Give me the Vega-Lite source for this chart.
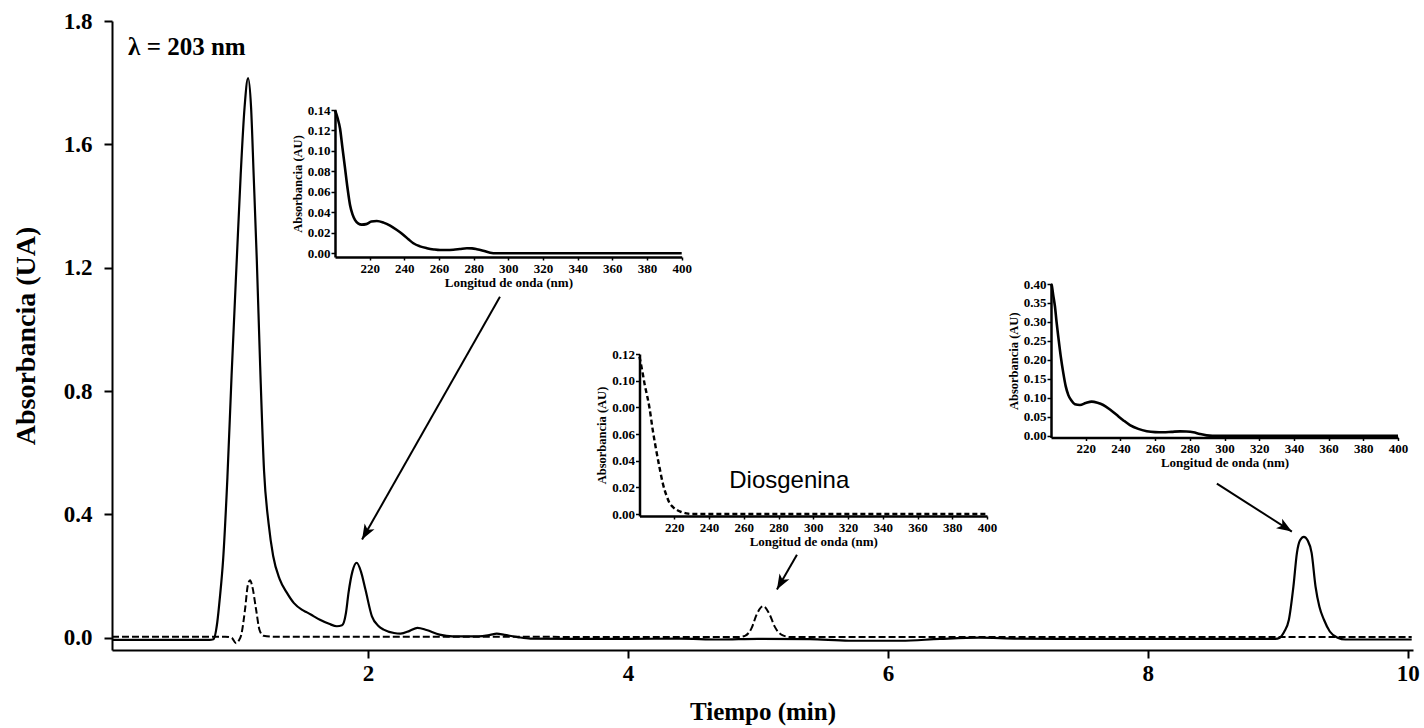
{
  "$schema": "https://vega.github.io/schema/vega-lite/v6.json",
  "width": 1301,
  "height": 629,
  "autosize": {"type": "none"},
  "padding": {"left": 112, "top": 21, "right": 11, "bottom": 78},
  "background": "white",
  "config": {
    "view": {"stroke": null},
    "axis": {
      "grid": false,
      "domainColor": "black",
      "tickColor": "black",
      "labelColor": "black",
      "titleColor": "black",
      "labelFont": "Liberation Serif",
      "titleFont": "Liberation Serif",
      "labelFontWeight": "bold",
      "titleFontWeight": "bold",
      "labelOverlap": false,
      "labelFlush": false
    }
  },
  "datasets": {
    "main": [
      {"serie": "muestra", "t": 0.03, "a": -0.007},
      {"serie": "muestra", "t": 0.4, "a": -0.007},
      {"serie": "muestra", "t": 0.78, "a": -0.007},
      {"serie": "muestra", "t": 0.81, "a": -0.005},
      {"serie": "muestra", "t": 0.84, "a": 0.05},
      {"serie": "muestra", "t": 0.86, "a": 0.13},
      {"serie": "muestra", "t": 0.885, "a": 0.253},
      {"serie": "muestra", "t": 0.918, "a": 0.52},
      {"serie": "muestra", "t": 0.95, "a": 0.85},
      {"serie": "muestra", "t": 0.99, "a": 1.226},
      {"serie": "muestra", "t": 1.02, "a": 1.5},
      {"serie": "muestra", "t": 1.05, "a": 1.72},
      {"serie": "muestra", "t": 1.077, "a": 1.815},
      {"serie": "muestra", "t": 1.1, "a": 1.72},
      {"serie": "muestra", "t": 1.12, "a": 1.5},
      {"serie": "muestra", "t": 1.144, "a": 1.226},
      {"serie": "muestra", "t": 1.17, "a": 0.88},
      {"serie": "muestra", "t": 1.2, "a": 0.54},
      {"serie": "muestra", "t": 1.235, "a": 0.37},
      {"serie": "muestra", "t": 1.27, "a": 0.265},
      {"serie": "muestra", "t": 1.32, "a": 0.19},
      {"serie": "muestra", "t": 1.375, "a": 0.146},
      {"serie": "muestra", "t": 1.43, "a": 0.112},
      {"serie": "muestra", "t": 1.49, "a": 0.091},
      {"serie": "muestra", "t": 1.53, "a": 0.082},
      {"serie": "muestra", "t": 1.58, "a": 0.07},
      {"serie": "muestra", "t": 1.63, "a": 0.058},
      {"serie": "muestra", "t": 1.7, "a": 0.045},
      {"serie": "muestra", "t": 1.76, "a": 0.037},
      {"serie": "muestra", "t": 1.8, "a": 0.04},
      {"serie": "muestra", "t": 1.83, "a": 0.08},
      {"serie": "muestra", "t": 1.85, "a": 0.146},
      {"serie": "muestra", "t": 1.88, "a": 0.215},
      {"serie": "muestra", "t": 1.913, "a": 0.243},
      {"serie": "muestra", "t": 1.945, "a": 0.215},
      {"serie": "muestra", "t": 1.98, "a": 0.156},
      {"serie": "muestra", "t": 2.03, "a": 0.069},
      {"serie": "muestra", "t": 2.08, "a": 0.038},
      {"serie": "muestra", "t": 2.12, "a": 0.026},
      {"serie": "muestra", "t": 2.2, "a": 0.015},
      {"serie": "muestra", "t": 2.25, "a": 0.013},
      {"serie": "muestra", "t": 2.32, "a": 0.022},
      {"serie": "muestra", "t": 2.38, "a": 0.032},
      {"serie": "muestra", "t": 2.45, "a": 0.025},
      {"serie": "muestra", "t": 2.55, "a": 0.01},
      {"serie": "muestra", "t": 2.65, "a": 0.004},
      {"serie": "muestra", "t": 2.85, "a": 0.004},
      {"serie": "muestra", "t": 2.94, "a": 0.009},
      {"serie": "muestra", "t": 2.99, "a": 0.013},
      {"serie": "muestra", "t": 3.05, "a": 0.009},
      {"serie": "muestra", "t": 3.15, "a": 0.002},
      {"serie": "muestra", "t": 3.25, "a": -0.003},
      {"serie": "muestra", "t": 3.6, "a": -0.004},
      {"serie": "muestra", "t": 4.0, "a": -0.004},
      {"serie": "muestra", "t": 4.4, "a": -0.003},
      {"serie": "muestra", "t": 4.7, "a": -0.006},
      {"serie": "muestra", "t": 5.0, "a": -0.004},
      {"serie": "muestra", "t": 5.4, "a": -0.005},
      {"serie": "muestra", "t": 5.7, "a": -0.01},
      {"serie": "muestra", "t": 6.1, "a": -0.01},
      {"serie": "muestra", "t": 6.4, "a": -0.004},
      {"serie": "muestra", "t": 6.7, "a": 0.0},
      {"serie": "muestra", "t": 7.0, "a": -0.003},
      {"serie": "muestra", "t": 7.5, "a": -0.004},
      {"serie": "muestra", "t": 8.0, "a": -0.004},
      {"serie": "muestra", "t": 8.5, "a": -0.004},
      {"serie": "muestra", "t": 8.98, "a": -0.004},
      {"serie": "muestra", "t": 9.015, "a": 0.0},
      {"serie": "muestra", "t": 9.05, "a": 0.02},
      {"serie": "muestra", "t": 9.085, "a": 0.058},
      {"serie": "muestra", "t": 9.12, "a": 0.166},
      {"serie": "muestra", "t": 9.147, "a": 0.275},
      {"serie": "muestra", "t": 9.17, "a": 0.315},
      {"serie": "muestra", "t": 9.2, "a": 0.327},
      {"serie": "muestra", "t": 9.23, "a": 0.315},
      {"serie": "muestra", "t": 9.26, "a": 0.275},
      {"serie": "muestra", "t": 9.29, "a": 0.166},
      {"serie": "muestra", "t": 9.32, "a": 0.1},
      {"serie": "muestra", "t": 9.355, "a": 0.058},
      {"serie": "muestra", "t": 9.4, "a": 0.02},
      {"serie": "muestra", "t": 9.46, "a": 0.0},
      {"serie": "muestra", "t": 9.52, "a": -0.006},
      {"serie": "muestra", "t": 10.03, "a": -0.006},
      {"serie": "estandar", "t": 0.03, "a": 0.003},
      {"serie": "estandar", "t": 0.9, "a": 0.003},
      {"serie": "estandar", "t": 0.95, "a": 0.0},
      {"serie": "estandar", "t": 0.985, "a": -0.018},
      {"serie": "estandar", "t": 1.005, "a": -0.01},
      {"serie": "estandar", "t": 1.025, "a": 0.01},
      {"serie": "estandar", "t": 1.054, "a": 0.093},
      {"serie": "estandar", "t": 1.075, "a": 0.17},
      {"serie": "estandar", "t": 1.092, "a": 0.186},
      {"serie": "estandar", "t": 1.11, "a": 0.165},
      {"serie": "estandar", "t": 1.138, "a": 0.093},
      {"serie": "estandar", "t": 1.165, "a": 0.025},
      {"serie": "estandar", "t": 1.195, "a": 0.006},
      {"serie": "estandar", "t": 1.3, "a": 0.003},
      {"serie": "estandar", "t": 2.0, "a": 0.003},
      {"serie": "estandar", "t": 3.0, "a": 0.003},
      {"serie": "estandar", "t": 4.0, "a": 0.002},
      {"serie": "estandar", "t": 4.85, "a": 0.002},
      {"serie": "estandar", "t": 4.9, "a": 0.006},
      {"serie": "estandar", "t": 4.95, "a": 0.03},
      {"serie": "estandar", "t": 4.99, "a": 0.075},
      {"serie": "estandar", "t": 5.04, "a": 0.102},
      {"serie": "estandar", "t": 5.09, "a": 0.075},
      {"serie": "estandar", "t": 5.13, "a": 0.035},
      {"serie": "estandar", "t": 5.18, "a": 0.01},
      {"serie": "estandar", "t": 5.25, "a": 0.002},
      {"serie": "estandar", "t": 7.0, "a": 0.002},
      {"serie": "estandar", "t": 10.03, "a": 0.002}
    ],
    "flechas": [
      {"flecha": 1, "t": 3.015, "a": 1.106, "t2": 1.954, "a2": 0.318},
      {"flecha": 2, "t": 5.3, "a": 0.269, "t2": 5.146, "a2": 0.156},
      {"flecha": 3, "t": 8.531, "a": 0.4995, "t2": 9.108, "a2": 0.344}
    ],
    "textos": [
      {"id": "lambda", "t": 0.154, "a": 1.891, "label": "λ = 203 nm"},
      {"id": "dios", "t": 4.779, "a": 0.4865, "label": "Diosgenina"}
    ],
    "esp1": [
      {"nm": 200, "abs": 0.14},
      {"nm": 201.5, "abs": 0.132},
      {"nm": 202.9, "abs": 0.122},
      {"nm": 204.3, "abs": 0.103},
      {"nm": 205.8, "abs": 0.083},
      {"nm": 207.2, "abs": 0.064},
      {"nm": 208.7, "abs": 0.047},
      {"nm": 210.1, "abs": 0.038},
      {"nm": 211.6, "abs": 0.0325},
      {"nm": 213.5, "abs": 0.029},
      {"nm": 215.4, "abs": 0.028},
      {"nm": 218, "abs": 0.0285},
      {"nm": 221, "abs": 0.031},
      {"nm": 224.1, "abs": 0.0316},
      {"nm": 228, "abs": 0.03},
      {"nm": 231.8, "abs": 0.027},
      {"nm": 235.5, "abs": 0.023},
      {"nm": 239.5, "abs": 0.018},
      {"nm": 242.5, "abs": 0.0135},
      {"nm": 245.2, "abs": 0.0098},
      {"nm": 249, "abs": 0.0068},
      {"nm": 253, "abs": 0.005},
      {"nm": 257, "abs": 0.0038},
      {"nm": 260.6, "abs": 0.0032},
      {"nm": 264.5, "abs": 0.0032},
      {"nm": 268.3, "abs": 0.0035},
      {"nm": 272, "abs": 0.0042},
      {"nm": 276.1, "abs": 0.005},
      {"nm": 279, "abs": 0.0048},
      {"nm": 281.8, "abs": 0.004},
      {"nm": 285.5, "abs": 0.0025},
      {"nm": 289.5, "abs": 0.0006},
      {"nm": 293, "abs": 0.0},
      {"nm": 400, "abs": 0.0}
    ],
    "esp2": [
      {"nm": 200, "abs": 0.118},
      {"nm": 201.5, "abs": 0.108},
      {"nm": 203, "abs": 0.097},
      {"nm": 204.5, "abs": 0.088},
      {"nm": 205.7, "abs": 0.08},
      {"nm": 207.5, "abs": 0.064},
      {"nm": 209.6, "abs": 0.048},
      {"nm": 211.5, "abs": 0.035},
      {"nm": 213.4, "abs": 0.023},
      {"nm": 215.5, "abs": 0.014},
      {"nm": 217, "abs": 0.009},
      {"nm": 219, "abs": 0.0055},
      {"nm": 221.5, "abs": 0.003},
      {"nm": 224, "abs": 0.0015},
      {"nm": 227, "abs": 0.0005},
      {"nm": 230, "abs": 0.0},
      {"nm": 400, "abs": 0.0}
    ],
    "esp3": [
      {"nm": 200, "abs": 0.4},
      {"nm": 200.4, "abs": 0.397},
      {"nm": 201.3, "abs": 0.37},
      {"nm": 202.3, "abs": 0.34},
      {"nm": 203.2, "abs": 0.3},
      {"nm": 204.2, "abs": 0.261},
      {"nm": 205.6, "abs": 0.21},
      {"nm": 207.1, "abs": 0.165},
      {"nm": 208.5, "abs": 0.13},
      {"nm": 210, "abs": 0.107},
      {"nm": 211.9, "abs": 0.092},
      {"nm": 213.8, "abs": 0.083},
      {"nm": 216.7, "abs": 0.081},
      {"nm": 220, "abs": 0.086},
      {"nm": 223.4, "abs": 0.09},
      {"nm": 226.8, "abs": 0.087},
      {"nm": 230.1, "abs": 0.081},
      {"nm": 234, "abs": 0.069},
      {"nm": 237.8, "abs": 0.055},
      {"nm": 241.6, "abs": 0.041},
      {"nm": 245.5, "abs": 0.028},
      {"nm": 250.3, "abs": 0.018},
      {"nm": 255.2, "abs": 0.012},
      {"nm": 260, "abs": 0.0095},
      {"nm": 264.7, "abs": 0.009},
      {"nm": 269.5, "abs": 0.0102},
      {"nm": 274.4, "abs": 0.0115},
      {"nm": 278, "abs": 0.011},
      {"nm": 282, "abs": 0.009},
      {"nm": 285.8, "abs": 0.0045},
      {"nm": 289.7, "abs": 0.001},
      {"nm": 293, "abs": 0.0},
      {"nm": 400, "abs": 0.0}
    ]
  },
  "layer": [
    {
      "encoding": {
        "x": {
          "field": "t", "type": "quantitative",
          "scale": {"domain": [0.03, 10.04], "nice": false, "zero": false},
          "axis": {
            "orient": "bottom",
            "values": [2, 4, 6, 8, 10],
            "format": "d",
            "title": "Tiempo (min)",
            "labelFontSize": 23,
            "titleFontSize": 25,
            "tickSize": 8, "tickWidth": 2, "domainWidth": 2,
            "labelPadding": 4, "titlePadding": 14
          }
        },
        "y": {
          "field": "a", "type": "quantitative",
          "scale": {"domain": [-0.04, 2.0], "nice": false, "zero": false},
          "axis": {
            "orient": "left",
            "values": [0, 0.4, 0.8, 1.2, 1.6, 2.0],
            "labelExpr": "datum.value >= 1.99 ? '1.8' : format(datum.value, '.1f')",
            "title": "Absorbancia (UA)",
            "labelFontSize": 23,
            "titleFontSize": 28,
            "tickSize": 8, "tickWidth": 2, "domainWidth": 2,
            "labelPadding": 12, "titlePadding": 23
          }
        }
      },
      "layer": [
        {
          "data": {"name": "main"},
          "transform": [{"filter": "datum.serie === 'muestra'"}],
          "mark": {"type": "line", "color": "black", "strokeWidth": 2.2, "interpolate": "monotone"}
        },
        {
          "data": {"name": "main"},
          "transform": [{"filter": "datum.serie === 'estandar'"}],
          "mark": {"type": "line", "color": "black", "strokeWidth": 2, "strokeDash": [7, 3], "interpolate": "monotone"}
        },
        {
          "data": {"name": "flechas"},
          "mark": {"type": "rule", "color": "black", "strokeWidth": 2},
          "encoding": {
            "x2": {"field": "t2"},
            "y2": {"field": "a2"}
          }
        },
        {
          "data": {"name": "flechas"},
          "transform": [{"filter": "datum.flecha === 1"}],
          "mark": {"type": "point", "shape": "M0,0L-0.6,1.6L0,1.2L0.6,1.6Z", "filled": true, "color": "black", "opacity": 1, "size": 360, "angle": 209.6},
          "encoding": {
            "x": {"field": "t2", "type": "quantitative"},
            "y": {"field": "a2", "type": "quantitative"}
          }
        },
        {
          "data": {"name": "flechas"},
          "transform": [{"filter": "datum.flecha === 2"}],
          "mark": {"type": "point", "shape": "M0,0L-0.6,1.6L0,1.2L0.6,1.6Z", "filled": true, "color": "black", "opacity": 1, "size": 360, "angle": 209.7},
          "encoding": {
            "x": {"field": "t2", "type": "quantitative"},
            "y": {"field": "a2", "type": "quantitative"}
          }
        },
        {
          "data": {"name": "flechas"},
          "transform": [{"filter": "datum.flecha === 3"}],
          "mark": {"type": "point", "shape": "M0,0L-0.6,1.6L0,1.2L0.6,1.6Z", "filled": true, "color": "black", "opacity": 1, "size": 360, "angle": 122.6},
          "encoding": {
            "x": {"field": "t2", "type": "quantitative"},
            "y": {"field": "a2", "type": "quantitative"}
          }
        },
        {
          "data": {"name": "textos"},
          "transform": [{"filter": "datum.id === 'lambda'"}],
          "mark": {"type": "text", "font": "Liberation Serif", "fontWeight": "bold", "fontSize": 25, "align": "left", "baseline": "alphabetic", "color": "black"},
          "encoding": {"text": {"field": "label"}}
        },
        {
          "data": {"name": "textos"},
          "transform": [{"filter": "datum.id === 'dios'"}],
          "mark": {"type": "text", "font": "Liberation Sans", "fontSize": 24, "align": "left", "baseline": "alphabetic", "color": "black"},
          "encoding": {"text": {"field": "label"}}
        }
      ]
    },
    {
      "data": {"name": "esp1"},
      "mark": {"type": "line", "color": "black", "strokeWidth": 2.6, "interpolate": "monotone"},
      "encoding": {
        "x": {
          "field": "nm", "type": "quantitative",
          "scale": {"domain": [200, 400], "range": [223, 569.7], "nice": false, "zero": false},
          "axis": {
            "orient": "bottom", "offset": -393,
            "values": [220, 240, 260, 280, 300, 320, 340, 360, 380, 400],
            "title": "Longitud de onda (nm)",
            "labelFontSize": 13, "titleFontSize": 13,
            "tickSize": 3, "tickWidth": 1.5, "domainWidth": 2.5,
            "labelPadding": 2, "titlePadding": 1
          }
        },
        "y": {
          "field": "abs", "type": "quantitative",
          "scale": {"domain": [-0.0036, 0.14], "range": [236, 89], "nice": false, "zero": false},
          "axis": {
            "orient": "left", "offset": -223,
            "values": [0, 0.02, 0.04, 0.06, 0.08, 0.1, 0.12, 0.14],
            "format": ".2f",
            "title": "Absorbancia (AU)",
            "labelFontSize": 13, "titleFontSize": 12.5,
            "tickSize": 4, "tickWidth": 1.5, "domainWidth": 2.5,
            "labelPadding": 1, "titlePadding": 3
          }
        }
      }
    },
    {
      "data": {"name": "esp2"},
      "mark": {"type": "line", "color": "black", "strokeWidth": 2.4, "strokeDash": [5, 3], "interpolate": "monotone"},
      "encoding": {
        "x": {
          "field": "nm", "type": "quantitative",
          "scale": {"domain": [200, 400], "range": [527.5, 875], "nice": false, "zero": false},
          "axis": {
            "orient": "bottom", "offset": -134,
            "values": [220, 240, 260, 280, 300, 320, 340, 360, 380, 400],
            "title": "Longitud de onda (nm)",
            "labelFontSize": 13, "titleFontSize": 13,
            "tickSize": 3, "tickWidth": 1.5, "domainWidth": 2.5,
            "labelPadding": 2, "titlePadding": 1
          }
        },
        "y": {
          "field": "abs", "type": "quantitative",
          "scale": {"domain": [-0.0015, 0.12], "range": [495, 333], "nice": false, "zero": false},
          "axis": {
            "orient": "left", "offset": -527.5,
            "values": [0, 0.02, 0.04, 0.06, 0.08, 0.1, 0.12],
            "labelExpr": "abs(datum.value - 0.08) < 0.001 ? '0.00' : format(datum.value, '.2f')",
            "title": "Absorbancia (AU)",
            "labelFontSize": 13, "titleFontSize": 12.5,
            "tickSize": 4, "tickWidth": 1.5, "domainWidth": 2.5,
            "labelPadding": 1, "titlePadding": 3
          }
        }
      }
    },
    {
      "data": {"name": "esp3"},
      "mark": {"type": "line", "color": "black", "strokeWidth": 2.6, "interpolate": "monotone"},
      "encoding": {
        "x": {
          "field": "nm", "type": "quantitative",
          "scale": {"domain": [200, 400], "range": [939, 1286], "nice": false, "zero": false},
          "axis": {
            "orient": "bottom", "offset": -212.5,
            "values": [220, 240, 260, 280, 300, 320, 340, 360, 380, 400],
            "title": "Longitud de onda (nm)",
            "labelFontSize": 13, "titleFontSize": 13,
            "tickSize": 3, "tickWidth": 1.5, "domainWidth": 2.5,
            "labelPadding": 2, "titlePadding": 1
          }
        },
        "y": {
          "field": "abs", "type": "quantitative",
          "scale": {"domain": [-0.0047, 0.4], "range": [416.5, 263], "nice": false, "zero": false},
          "axis": {
            "orient": "left", "offset": -939,
            "values": [0, 0.05, 0.1, 0.15, 0.2, 0.25, 0.3, 0.35, 0.4],
            "format": ".2f",
            "title": "Absorbancia (AU)",
            "labelFontSize": 13, "titleFontSize": 12.5,
            "tickSize": 4, "tickWidth": 1.5, "domainWidth": 2.5,
            "labelPadding": 1, "titlePadding": 3
          }
        }
      }
    }
  ],
  "resolve": {
    "scale": {"x": "independent", "y": "independent"},
    "axis": {"x": "independent", "y": "independent"}
  }
}
